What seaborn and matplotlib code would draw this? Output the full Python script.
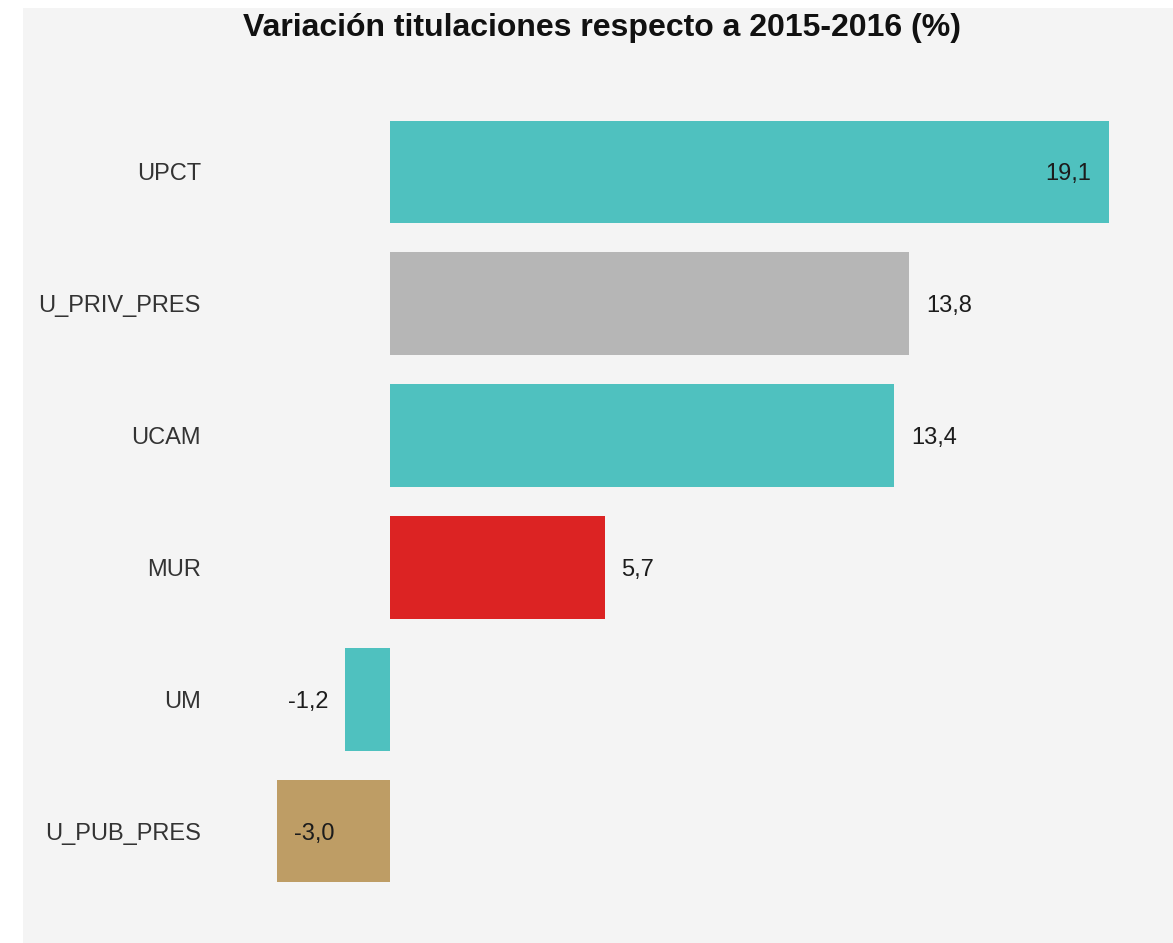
import matplotlib
matplotlib.use("Agg")
import matplotlib.pyplot as plt
import seaborn as sns
import pandas as pd
from matplotlib.patches import Rectangle

universidades = ["UPCT", "U_PRIV_PRES", "UCAM", "MUR", "UM", "U_PUB_PRES"]
variacion = [19.1, 13.8, 13.4, 5.7, -1.2, -3.0]
colores = ["#4fc1bf", "#b6b6b6", "#4fc1bf", "#dc2323", "#4fc1bf", "#be9d65"]

df = pd.DataFrame({"uni": universidades, "var": variacion})

sns.set_style("white")
plt.rcParams["font.family"] = ["Liberation Sans", "DejaVu Sans"]

W, H = 1173, 943
fig = plt.figure(figsize=(W / 100, H / 100), dpi=100)
fig.patch.set_facecolor("white")
# panel gris de fondo
fig.patches.append(Rectangle((23 / W, 0), 1 - 23 / W, 1 - 8 / H,
                             transform=fig.transFigure, facecolor="#f4f4f4",
                             edgecolor="none", zorder=-10))

ax = fig.add_axes([230 / W, (H - 897) / H, (1140 - 230) / W, (897 - 106) / H])
ax.set_facecolor("none")

sns.barplot(data=df, y="uni", x="var", hue="uni", palette=colores,
            orient="h", width=0.78, saturation=1, legend=False,
            linewidth=0, ax=ax)

px = 37.64  # px por unidad
ax.set_xlim((230 - 390) / px, (1140 - 390) / px)
ax.set_ylim(5.5, -0.5)

vmax, vmin = max(variacion), min(variacion)
for i, v in enumerate(variacion):
    txt = f"{v:.1f}".replace(".", ",")
    inside = v == vmax or v == vmin
    if v >= 0:
        dx, ha = (-13, "right") if inside else (12, "left")
    else:
        dx, ha = (12, "left") if inside else (-12, "right")
    ax.annotate(txt, (v, i), xytext=(dx, 0), textcoords="offset points",
                ha=ha, va="center_baseline", fontsize=17, color="#1c1c1c")

ax.set_yticks(range(len(universidades)))
ax.set_yticklabels(universidades, fontsize=17, color="#333333")
ax.tick_params(axis="y", length=0, pad=21)
ax.set_xticks([])
ax.set_xlabel("")
ax.set_ylabel("")
sns.despine(ax=ax, left=True, bottom=True)

fig.text(602 / W, 1 - 28 / H, "Variación titulaciones respecto a 2015-2016 (%)",
         ha="center", va="center", fontsize=23, fontweight="bold", color="#111111")

fig.savefig("out.png", dpi=100, facecolor=fig.get_facecolor())
